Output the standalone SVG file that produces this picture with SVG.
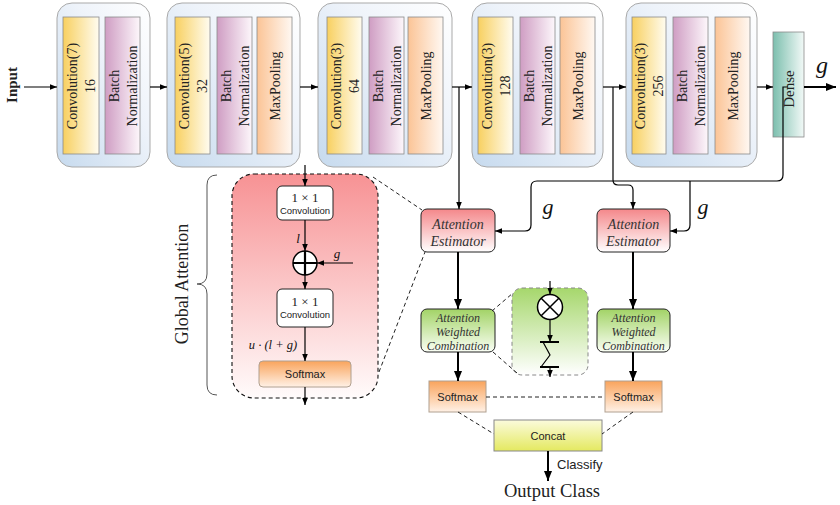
<svg xmlns="http://www.w3.org/2000/svg" width="840" height="505" viewBox="0 0 840 505">
<style>
.blk{stroke:#a9a9a9;stroke-width:1;}
.in{stroke:#8a8a8a;stroke-width:0.8;}
.rt{font-family:"Liberation Serif","Times New Roman",serif;font-size:14px;fill:#222;text-anchor:middle;}
.ln{fill:none;stroke:#000;stroke-width:1.2;}
.tk{fill:none;stroke:#000;stroke-width:2;}
.ds{fill:none;stroke:#222;stroke-width:1;stroke-dasharray:4,3;}
.box{stroke:#222;stroke-width:1;}
.sm{stroke:#b0a090;stroke-width:1;}
.sans{font-family:"Liberation Sans",Arial,sans-serif;fill:#222;text-anchor:middle;}
.it{font-family:"Liberation Serif","Times New Roman",serif;font-style:italic;fill:#333;text-anchor:middle;}
.mth{font-family:"Liberation Serif","Times New Roman",serif;fill:#222;text-anchor:middle;}
</style>
<defs>
<linearGradient id="gBlk" x1="0" y1="1" x2="1" y2="0"><stop offset="0" stop-color="#c6daee"/><stop offset="0.6" stop-color="#eef3fa"/><stop offset="1" stop-color="#ffffff"/></linearGradient>
<linearGradient id="gConv" x1="0" y1="0" x2="1" y2="0"><stop offset="0" stop-color="#f8d060"/><stop offset="1" stop-color="#fffcf0"/></linearGradient>
<linearGradient id="gBN" x1="0" y1="0" x2="1" y2="0"><stop offset="0" stop-color="#cf9dc3"/><stop offset="1" stop-color="#fdf7fb"/></linearGradient>
<linearGradient id="gMP" x1="0" y1="0" x2="1" y2="0"><stop offset="0" stop-color="#fbc496"/><stop offset="1" stop-color="#fff8f2"/></linearGradient>
<linearGradient id="gDen" x1="0" y1="0" x2="1" y2="0"><stop offset="0" stop-color="#7cbfae"/><stop offset="1" stop-color="#f2f9f7"/></linearGradient>
<linearGradient id="gRed" x1="0" y1="0" x2="0" y2="1"><stop offset="0" stop-color="#f4878a"/><stop offset="1" stop-color="#ffffff"/></linearGradient>
<linearGradient id="gBig" x1="0" y1="0" x2="0" y2="1"><stop offset="0" stop-color="#f79294"/><stop offset="1" stop-color="#fffbfb"/></linearGradient>
<linearGradient id="gGrn" x1="0" y1="0" x2="0" y2="1"><stop offset="0" stop-color="#a2d366"/><stop offset="1" stop-color="#fbfff6"/></linearGradient>
<linearGradient id="gGbox" x1="0" y1="0" x2="0" y2="1"><stop offset="0" stop-color="#a6d76c"/><stop offset="1" stop-color="#ffffff"/></linearGradient>
<linearGradient id="gSm" x1="0" y1="0" x2="0" y2="1"><stop offset="0" stop-color="#f9a45c"/><stop offset="1" stop-color="#fff1e6"/></linearGradient>
<linearGradient id="gCat" x1="0" y1="0" x2="0" y2="1"><stop offset="0" stop-color="#fbfbdc"/><stop offset="1" stop-color="#e4e960"/></linearGradient>
<marker id="ah" viewBox="0 0 10 10" refX="10" refY="5" markerWidth="7" markerHeight="7" markerUnits="userSpaceOnUse" orient="auto"><path d="M0,1 L10,5 L0,9 z" fill="#000"/></marker>
<marker id="ahb" viewBox="0 0 10 10" refX="10" refY="5" markerWidth="10" markerHeight="10" markerUnits="userSpaceOnUse" orient="auto"><path d="M0,1 L10,5 L0,9 z" fill="#000"/></marker>
</defs>
<rect width="840" height="505" fill="#ffffff"/>

<text class="rt" font-weight="bold" style="font-size:15px" transform="translate(12,85) rotate(-90)" y="5">Input</text>

<g id="block1">
<rect class="blk" x="57" y="3" width="93" height="164" rx="15" fill="url(#gBlk)"/>
<rect class="in" x="63" y="17" width="36" height="137" fill="url(#gConv)"/>
<rect class="in" x="105" y="17" width="35" height="137" fill="url(#gBN)"/>
<text class="rt" transform="translate(81,86) rotate(-90)"><tspan x="0" y="-4">Convolution(7)</tspan><tspan x="0" y="14">16</tspan></text>
<text class="rt" transform="translate(122.5,86) rotate(-90)"><tspan x="0" y="-4">Batch</tspan><tspan x="0" y="14">Normalization</tspan></text>
</g>
<g id="block2">
<rect class="blk" x="167" y="3" width="133" height="164" rx="15" fill="url(#gBlk)"/>
<rect class="in" x="175" y="17" width="35" height="137" fill="url(#gConv)"/>
<rect class="in" x="217" y="17" width="35" height="137" fill="url(#gBN)"/>
<rect class="in" x="257" y="17" width="35" height="137" fill="url(#gMP)"/>
<text class="rt" transform="translate(192.5,86) rotate(-90)"><tspan x="0" y="-4">Convolution(5)</tspan><tspan x="0" y="14">32</tspan></text>
<text class="rt" transform="translate(234.5,86) rotate(-90)"><tspan x="0" y="-4">Batch</tspan><tspan x="0" y="14">Normalization</tspan></text>
<text class="rt" transform="translate(274.5,86) rotate(-90)" y="5">MaxPooling</text>
</g>
<g id="block3">
<rect class="blk" x="318" y="3" width="134" height="164" rx="15" fill="url(#gBlk)"/>
<rect class="in" x="327" y="17" width="35" height="137" fill="url(#gConv)"/>
<rect class="in" x="369" y="17" width="35" height="137" fill="url(#gBN)"/>
<rect class="in" x="408" y="17" width="35" height="137" fill="url(#gMP)"/>
<text class="rt" transform="translate(344.5,86) rotate(-90)"><tspan x="0" y="-4">Convolution(3)</tspan><tspan x="0" y="14">64</tspan></text>
<text class="rt" transform="translate(386.5,86) rotate(-90)"><tspan x="0" y="-4">Batch</tspan><tspan x="0" y="14">Normalization</tspan></text>
<text class="rt" transform="translate(425.5,86) rotate(-90)" y="5">MaxPooling</text>
</g>
<g id="block4">
<rect class="blk" x="472" y="3" width="131" height="164" rx="15" fill="url(#gBlk)"/>
<rect class="in" x="478" y="17" width="35" height="137" fill="url(#gConv)"/>
<rect class="in" x="520" y="17" width="35" height="137" fill="url(#gBN)"/>
<rect class="in" x="560" y="17" width="35" height="137" fill="url(#gMP)"/>
<text class="rt" transform="translate(495.5,86) rotate(-90)"><tspan x="0" y="-4">Convolution(3)</tspan><tspan x="0" y="14">128</tspan></text>
<text class="rt" transform="translate(537.5,86) rotate(-90)"><tspan x="0" y="-4">Batch</tspan><tspan x="0" y="14">Normalization</tspan></text>
<text class="rt" transform="translate(577.5,86) rotate(-90)" y="5">MaxPooling</text>
</g>
<g id="block5">
<rect class="blk" x="626" y="3" width="131" height="164" rx="15" fill="url(#gBlk)"/>
<rect class="in" x="632" y="17" width="34" height="137" fill="url(#gConv)"/>
<rect class="in" x="673" y="17" width="35" height="137" fill="url(#gBN)"/>
<rect class="in" x="715" y="17" width="35" height="137" fill="url(#gMP)"/>
<text class="rt" transform="translate(649,86) rotate(-90)"><tspan x="0" y="-4">Convolution(3)</tspan><tspan x="0" y="14">256</tspan></text>
<text class="rt" transform="translate(690.5,86) rotate(-90)"><tspan x="0" y="-4">Batch</tspan><tspan x="0" y="14">Normalization</tspan></text>
<text class="rt" transform="translate(732.5,86) rotate(-90)" y="5">MaxPooling</text>
</g>
<g id="dense">
<rect class="in" x="773" y="32" width="31" height="105" fill="url(#gDen)"/>
<text class="rt" style="font-size:15px" transform="translate(789,89) rotate(-90)" y="5">Dense</text>
</g>
<text class="it" x="822" y="73" style="font-size:24px;fill:#111">g</text>

<g id="global-attention">
<path d="M217,175 Q207,175 207,185 V274 Q207,284 197,284 Q207,284 207,294 V385 Q207,395 217,395" fill="none" stroke="#555" stroke-width="1"/>
<text class="mth" style="font-size:18px" transform="translate(182,284) rotate(-90)" y="6">Global Attention</text>
<rect x="232" y="174" width="146" height="224" rx="22" fill="url(#gBig)" stroke="#111" stroke-width="1.1" stroke-dasharray="4,3"/>
<g id="conv1x1-a">
<rect class="box" x="277" y="186" width="56" height="34" rx="5" fill="#ffffff"/>
<text class="mth" x="305" y="202" style="font-size:13px">1 × 1</text>
<text class="sans" x="305" y="214" style="font-size:9.5px">Convolution</text>
</g>
<g id="add">
<circle cx="305" cy="263" r="12" fill="#ffffff" stroke="#000" stroke-width="1.5"/>
<path d="M293,263 H317 M305,251 V275" stroke="#000" stroke-width="2.2"/>
</g>
<g id="conv1x1-b">
<rect class="box" x="277" y="289" width="56" height="38" rx="5" fill="#ffffff"/>
<text class="mth" x="305" y="306" style="font-size:13px">1 × 1</text>
<text class="sans" x="305" y="318" style="font-size:9.5px">Convolution</text>
</g>
<g id="softmax-ga">
<rect class="sm" x="259" y="361" width="92" height="26" rx="4" fill="url(#gSm)"/>
<text class="sans" x="305" y="378" style="font-size:11px">Softmax</text>
</g>
<text class="it" x="298" y="243" style="font-size:13px;fill:#111">l</text>
<text class="it" x="337" y="258" style="font-size:13px;fill:#111">g</text>
<text class="it" x="273" y="349" style="font-size:12.5px;fill:#111">u · (l + g)</text>
</g>

<g id="ae-left">
<rect class="box" x="421" y="209" width="74" height="43" rx="6" fill="url(#gRed)"/>
<text class="it" x="458" y="229" style="font-size:14px">Attention</text>
<text class="it" x="458" y="246" style="font-size:14px">Estimator</text>
</g>
<g id="ae-right">
<rect class="box" x="597" y="209" width="73" height="43" rx="6" fill="url(#gRed)"/>
<text class="it" x="633.5" y="229" style="font-size:14px">Attention</text>
<text class="it" x="633.5" y="246" style="font-size:14px">Estimator</text>
</g>
<g id="awc-left">
<rect class="box" x="421" y="309" width="74" height="43" rx="6" fill="url(#gGrn)"/>
<text class="it" x="458" y="322" style="font-size:12px">Attention</text>
<text class="it" x="458" y="336" style="font-size:12px">Weighted</text>
<text class="it" x="458" y="350" style="font-size:12px">Combination</text>
</g>
<g id="awc-right">
<rect class="box" x="597" y="309" width="73" height="43" rx="6" fill="url(#gGrn)"/>
<text class="it" x="633.5" y="322" style="font-size:12px">Attention</text>
<text class="it" x="633.5" y="336" style="font-size:12px">Weighted</text>
<text class="it" x="633.5" y="350" style="font-size:12px">Combination</text>
</g>
<g id="weighted-detail">
<rect x="512" y="288" width="76" height="87" rx="10" fill="url(#gGbox)" stroke="#888" stroke-width="1" stroke-dasharray="4,3"/>
<circle cx="550" cy="307" r="12.5" fill="#ffffff" stroke="#000" stroke-width="1.5"/>
<path d="M541.2,298.2 L558.8,315.8 M558.8,298.2 L541.2,315.8" stroke="#000" stroke-width="1.5"/>
<path d="M540,342 H559 M540,367 H559" stroke="#000" stroke-width="2"/>
<path d="M543,342 L550,355 L541,367" fill="none" stroke="#000" stroke-width="1.2"/>
</g>
<g id="softmax-left">
<rect class="sm" x="429" y="381" width="57" height="31" fill="url(#gSm)"/>
<text class="sans" x="457.5" y="401" style="font-size:11px">Softmax</text>
</g>
<g id="softmax-right">
<rect class="sm" x="605" y="381" width="57" height="31" fill="url(#gSm)"/>
<text class="sans" x="633.5" y="401" style="font-size:11px">Softmax</text>
</g>
<g id="concat">
<rect x="494" y="420" width="108" height="31" fill="url(#gCat)" stroke="#888" stroke-width="1"/>
<text class="sans" x="548" y="440" style="font-size:11px">Concat</text>
</g>
<text class="sans" x="557" y="469" style="font-size:13px;text-anchor:start">Classify</text>
<text class="mth" x="552" y="497" style="font-size:18.5px">Output Class</text>
<text class="it" x="548" y="214" style="font-size:22px;fill:#111">g</text>
<text class="it" x="703" y="214" style="font-size:22px;fill:#111">g</text>

<g id="connectors">
<path class="ln" d="M24,87 H57" marker-end="url(#ah)"/>
<path class="ln" d="M150,87 H167" marker-end="url(#ah)"/>
<path class="ln" d="M300,87 H318" marker-end="url(#ah)"/>
<path class="ln" d="M452,87 H472" marker-end="url(#ah)"/>
<path class="ln" d="M603,87 H626" marker-end="url(#ah)"/>
<path class="ln" d="M757,87 H773" marker-end="url(#ah)"/>
<path class="tk" d="M804,87 H836" marker-end="url(#ahb)"/>
<path class="ln" d="M459,87 V209" marker-end="url(#ah)"/>
<path class="ln" stroke-width="1" d="M613,87 V180 Q613,185 618,185 H628 Q633,185 633,190 V209" marker-end="url(#ah)"/>
<path class="ln" stroke-width="1.5" d="M788,87 H783 V175 Q783,181 777,181 H537 Q531,181 531,187 V225 Q531,231 525,231 H495" marker-end="url(#ah)"/>
<path class="ln" stroke-width="1.5" d="M690,181 V225 Q690,231 684,231 H670" marker-end="url(#ah)"/>
<path class="ln" stroke-width="1.5" d="M305,165 V186" marker-end="url(#ah)"/>
<path class="ln" stroke-width="1.5" d="M305,220 V251" marker-end="url(#ah)"/>
<path class="ln" stroke-width="1.5" d="M353,263 H317" marker-end="url(#ah)"/>
<path class="ln" stroke-width="1.5" d="M305,275 V289" marker-end="url(#ah)"/>
<path class="ln" stroke-width="1.5" d="M305,327 V361" marker-end="url(#ah)"/>
<path class="ln" stroke-width="1.5" d="M305,387 V405" marker-end="url(#ah)"/>
<path class="tk" d="M458,252 V309" marker-end="url(#ahb)"/>
<path class="tk" d="M633,252 V309" marker-end="url(#ahb)"/>
<path class="tk" d="M458,352 V381" marker-end="url(#ahb)"/>
<path class="tk" d="M633,352 V381" marker-end="url(#ahb)"/>
<path class="tk" d="M548,451 V481" marker-end="url(#ahb)"/>
<path class="ln" stroke-width="1.5" d="M550,281 V294.5" marker-end="url(#ah)"/>
<path class="ln" stroke-width="1.5" d="M550,319.5 V342" marker-end="url(#ah)"/>
<path class="ln" stroke-width="1.5" d="M550,367 V377" marker-end="url(#ah)"/>
<path class="ds" d="M373,177 L422,210"/>
<path class="ds" d="M379,372 L425,252"/>
<path class="ds" d="M492,311 L513,293"/>
<path class="ds" d="M493,352 L517,373"/>
<path class="ds" d="M486,397 H605"/>
<path class="ds" d="M458,412 L494,434"/>
<path class="ds" d="M633,412 L602,434"/>
</g>
</svg>
